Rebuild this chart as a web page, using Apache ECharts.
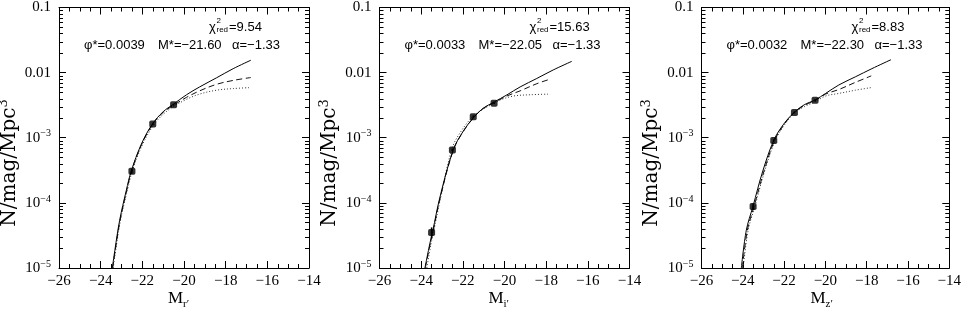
<!DOCTYPE html>
<html><head><meta charset="utf-8">
<script src="https://cdn.jsdelivr.net/npm/echarts@6/dist/echarts.min.js"></script>
<style>html,body{margin:0;padding:0;background:#fff}#c{width:964px;height:310px}</style>
</head><body><div id="c"></div>
<script>
// ---- tick labels / annotations ----
const xTickValues = [-26, -24, -22, -20, -18, -16, -14];
const xTickLabels = ['−26', '−24', '−22', '−20', '−18', '−16', '−14'];
const yTickLabels = ['10|−5', '10|−4', '10|−3', '0.01', '0.1']; // 1e-5 .. 0.1
const bandLabels = ['r′', 'i′', 'z′'];
const phiStar = ['0.0039', '0.0033', '0.0032'];
const mStar = ['−21.60', '−22.05', '−22.30'];
const alphaVal = ['−1.33', '−1.33', '−1.33'];
const chiRed = ['9.54', '15.63', '8.83'];

// ---- panel 1 (r') ----
const rSolidM = [-23.44, -23.32, -23.09, -22.77, -22.53, -22.05, -21.52, -21.00, -20.53, -19.88, -19.25, -18.44, -17.64, -16.79];
const rSolidV = [1.0e-5, 1.86e-5, 5.37e-5, 1.55e-4, 3.09e-4, 7.94e-4, 1.62e-3, 2.51e-3, 3.24e-3, 4.57e-3, 6.03e-3, 8.32e-3, 1.15e-2, 1.55e-2];
const rDashM = [-23.42, -23.30, -23.07, -22.75, -22.52, -22.03, -21.50, -21.00, -20.50, -19.88, -19.25, -18.44, -17.64, -16.79];
const rDashV = [1.0e-5, 1.86e-5, 5.37e-5, 1.55e-4, 3.09e-4, 7.94e-4, 1.62e-3, 2.45e-3, 3.16e-3, 4.17e-3, 5.25e-3, 6.61e-3, 7.59e-3, 8.41e-3];
const rDotM = [-23.40, -23.28, -23.05, -22.72, -22.48, -22.00, -21.47, -21.00, -20.50, -19.88, -19.25, -18.44, -17.64, -16.79];
const rDotV = [1.0e-5, 1.86e-5, 5.37e-5, 1.55e-4, 3.09e-4, 7.76e-4, 1.55e-3, 2.29e-3, 3.02e-3, 3.89e-3, 4.68e-3, 5.37e-3, 5.69e-3, 5.89e-3];
const rPtsM = [-22.5, -21.5, -20.5];
const rPtsV = [3.05e-4, 1.62e-3, 3.2e-3];
const rPtsLo = [2.8e-4, 1.55e-3, 3.1e-3];
const rPtsHi = [3.3e-4, 1.7e-3, 3.3e-3];

// ---- panel 2 (i') ----
const iSolidM = [-23.82, -23.58, -23.45, -23.10, -22.46, -21.98, -21.46, -21.02, -20.49, -19.89, -19.25, -18.45, -17.66, -16.77];
const iSolidV = [1.0e-5, 2.40e-5, 3.63e-5, 1.22e-4, 6.53e-4, 1.26e-3, 2.09e-3, 2.84e-3, 3.55e-3, 4.54e-3, 6.03e-3, 8.13e-3, 1.10e-2, 1.49e-2];
const iDashM = [-23.80, -23.56, -23.43, -23.08, -22.45, -21.97, -21.45, -21.02, -20.49, -19.89, -19.25, -18.45, -17.81];
const iDashV = [1.0e-5, 2.40e-5, 3.63e-5, 1.22e-4, 6.53e-4, 1.26e-3, 2.09e-3, 2.82e-3, 3.47e-3, 4.37e-3, 5.25e-3, 6.76e-3, 7.94e-3];
const iDotM = [-23.73, -23.52, -23.40, -23.06, -22.50, -22.02, -21.50, -21.02, -20.49, -20.21, -19.57, -18.78, -17.81];
const iDotV = [1.0e-5, 2.40e-5, 3.63e-5, 1.22e-4, 7.08e-4, 1.35e-3, 2.14e-3, 2.75e-3, 3.39e-3, 3.80e-3, 4.37e-3, 4.57e-3, 4.68e-3];
const iPtsM = [-23.5, -22.5, -21.5, -20.5];
const iPtsV = [3.5e-5, 6.5e-4, 2.1e-3, 3.4e-3];
const iPtsLo = [2.9e-5, 6.2e-4, 2.0e-3, 3.3e-3];
const iPtsHi = [4.2e-5, 6.8e-4, 2.2e-3, 3.5e-3];

// ---- panel 3 (z') ----
const zSolidM = [-24.07, -23.83, -23.51, -23.03, -22.50, -22.02, -21.51, -21.03, -20.50, -19.99, -19.35, -18.55, -17.75, -16.82];
const zSolidV = [1.0e-5, 3.80e-5, 8.77e-5, 3.09e-4, 9.12e-4, 1.62e-3, 2.45e-3, 3.20e-3, 3.80e-3, 4.79e-3, 6.46e-3, 8.61e-3, 1.15e-2, 1.58e-2];
const zDashM = [-24.02, -23.78, -23.46, -22.97, -22.46, -21.99, -21.50, -21.00, -20.50, -19.99, -19.35, -18.55, -17.78];
const zDashV = [1.0e-5, 3.80e-5, 8.71e-5, 3.09e-4, 9.12e-4, 1.62e-3, 2.45e-3, 3.16e-3, 3.72e-3, 4.68e-3, 5.50e-3, 7.08e-3, 8.91e-3];
const zDotM = [-23.98, -23.74, -23.42, -22.94, -22.44, -21.98, -21.50, -21.00, -20.50, -19.99, -19.35, -18.55, -17.78];
const zDotV = [1.0e-5, 3.80e-5, 8.71e-5, 3.09e-4, 8.91e-4, 1.58e-3, 2.40e-3, 3.02e-3, 3.55e-3, 4.37e-3, 4.79e-3, 5.37e-3, 5.89e-3];
const zPtsM = [-23.5, -22.5, -21.5, -20.5];
const zPtsV = [8.8e-5, 9.1e-4, 2.45e-3, 3.75e-3];
const zPtsLo = [7.8e-5, 8.7e-4, 2.38e-3, 3.65e-3];
const zPtsHi = [9.8e-5, 9.5e-4, 2.52e-3, 3.85e-3];

const panels = [
  {solid:[rSolidM,rSolidV], dash:[rDashM,rDashV], dot:[rDotM,rDotV], pts:[rPtsM,rPtsV,rPtsLo,rPtsHi]},
  {solid:[iSolidM,iSolidV], dash:[iDashM,iDashV], dot:[iDotM,iDotV], pts:[iPtsM,iPtsV,iPtsLo,iPtsHi]},
  {solid:[zSolidM,zSolidV], dash:[zDashM,zDashV], dot:[zDotM,zDotV], pts:[zPtsM,zPtsV,zPtsLo,zPtsHi]}
];

// ---- layout ----
const gridLefts = [59, 379.5, 701.5];
const GW = 250, GT = 5, GH = 263;
const SERIF = "'Liberation Serif','Times New Roman',serif";
const SANS = "'Liberation Sans',Arial,sans-serif";
const TITLE_SERIF = "'DejaVu Serif',serif";

// minor log ticks (2..9 within each decade)
const minorTickValues = [];
for (let n = -5; n <= -2; n++) for (let k = 2; k <= 9; k++) minorTickValues.push(k * Math.pow(10, n));

const zip = (a, b) => a.map((v, i) => [v, b[i]]);

const grid = [], xAxis = [], yAxis = [], series = [], graphic = [];
const tickLine = {color: '#000', width: 1};

panels.forEach((p, i) => {
  const L = gridLefts[i];
  grid.push({left: L, top: GT, width: GW, height: GH, containLabel: false});
  const xBase = {
    type: 'value', gridIndex: i, min: -26, max: -14, interval: 2,
    axisLine: {show: true, onZero: false, lineStyle: {color: '#000', width: 1}},
    axisTick: {show: true, inside: true, length: 7, lineStyle: tickLine},
    minorTick: {show: true, splitNumber: 4, length: 4, lineStyle: tickLine},
    splitLine: {show: false}, minorSplitLine: {show: false}
  };
  xAxis.push(Object.assign({}, xBase, {
    position: 'bottom',
    axisLabel: {show: true, margin: 6, color: '#000', fontFamily: SERIF, fontSize: 15,
      formatter: v => { const k = xTickValues.indexOf(Math.round(v)); return k >= 0 ? xTickLabels[k] : ''; }}
  }));
  xAxis.push(Object.assign({}, xBase, {position: 'top', axisLabel: {show: false}}));

  const yLogBase = {
    type: 'log', logBase: 10, gridIndex: i, min: 1e-5, max: 0.1,
    axisLine: {show: true, onZero: false, lineStyle: {color: '#000', width: 1}},
    axisTick: {show: true, inside: true, length: 7, lineStyle: tickLine},
    splitLine: {show: false}, minorTick: {show: false}
  };
  yAxis.push(Object.assign({}, yLogBase, {
    position: 'left',
    axisLabel: {show: true, margin: 8, color: '#000',
      formatter: v => {
        const e = Math.round(Math.log10(v));
        const lab = yTickLabels[e + 5];
        if (!lab) return '';
        const parts = lab.split('|');
        return parts.length === 2 ? '{n|' + parts[0] + '}{s|' + parts[1] + '}' : '{n|' + lab + '}';
      },
      rich: {
        n: {fontFamily: SERIF, fontSize: 15, color: '#000', lineHeight: 18},
        s: {fontFamily: SERIF, fontSize: 10, color: '#000', verticalAlign: 'top', lineHeight: 10}
      }}
  }));
  yAxis.push(Object.assign({}, yLogBase, {position: 'right', axisLabel: {show: false}}));

  const xi = 2 * i, yi = 2 * i;
  // minor y ticks on both sides, placed through the log axis
  series.push({type: 'custom', xAxisIndex: xi, yAxisIndex: yi, silent: true, z: 2, clip: false,
    data: minorTickValues.map(v => [-26, v]),
    encode: {x: 0, y: 1},
    renderItem: (params, api) => {
      const y = Math.round(api.coord([api.value(0), api.value(1)])[1]) + 0.5;
      const cs = params.coordSys;
      const xl = cs.x, xr = cs.x + cs.width;
      return {type: 'group', children: [
        {type: 'line', shape: {x1: xl, y1: y, x2: xl + 4, y2: y}, style: {stroke: '#000', lineWidth: 1}},
        {type: 'line', shape: {x1: xr - 4, y1: y, x2: xr, y2: y}, style: {stroke: '#000', lineWidth: 1}}
      ]};
    }});

  series.push({type: 'line', xAxisIndex: xi, yAxisIndex: yi, data: zip(p.dot[0], p.dot[1]),
    showSymbol: false, smooth: 0.35, lineStyle: {color: '#333', width: 1, type: [1, 2]}, z: 3, silent: true});
  series.push({type: 'line', xAxisIndex: xi, yAxisIndex: yi, data: zip(p.dash[0], p.dash[1]),
    showSymbol: false, smooth: 0.35, lineStyle: {color: '#111', width: 1, type: [6, 3.5]}, z: 3, silent: true});
  series.push({type: 'line', xAxisIndex: xi, yAxisIndex: yi, data: zip(p.solid[0], p.solid[1]),
    showSymbol: false, smooth: 0.35, lineStyle: {color: '#000', width: 1}, z: 4, silent: true});
  series.push({type: 'custom', xAxisIndex: xi, yAxisIndex: yi, silent: true, z: 5,
    data: p.pts[0].map((m, k) => [m, p.pts[2][k], p.pts[3][k]]),
    encode: {x: 0, y: [1, 2]},
    renderItem: (params, api) => {
      const a = api.coord([api.value(0), api.value(1)]);
      const b = api.coord([api.value(0), api.value(2)]);
      return {type: 'line', shape: {x1: a[0], y1: a[1], x2: b[0], y2: b[1]}, style: {stroke: '#000', lineWidth: 1.5}};
    }});
  series.push({type: 'scatter', xAxisIndex: xi, yAxisIndex: yi, data: zip(p.pts[0], p.pts[1]),
    symbol: 'roundRect', symbolSize: 7, itemStyle: {color: '#000'}, z: 6, silent: true});

  // annotations
  const t = (x, y, text, font, align, extra) => Object.assign({type: 'text', x: x, y: y, silent: true,
    style: {text: text, font: font, fill: '#000', textAlign: align, align: align, textVerticalAlign: 'middle', verticalAlign: 'middle'}}, extra || {});
  graphic.push(t(L + 25, 45, 'φ*=' + phiStar[i], '13px ' + SANS, 'left'));
  graphic.push(t(L + 99, 45, 'M*=' + mStar[i], '13px ' + SANS, 'left'));
  graphic.push(t(L + 173, 45, 'α=' + alphaVal[i], '13px ' + SANS, 'left'));
  graphic.push(t(L + 150, 27, 'χ', '13px ' + SANS, 'left'));
  graphic.push(t(L + 157.5, 21, '2', '8px ' + SANS, 'left'));
  graphic.push(t(L + 157.5, 30, 'red', '8px ' + SANS, 'left'));
  graphic.push(t(L + 170, 27, '=' + chiRed[i], '13px ' + SANS, 'left'));
  // x title
  graphic.push(t(L + 124, 299, 'M', '17px ' + SERIF, 'right'));
  graphic.push(t(L + 124, 304, bandLabels[i], '11px ' + SERIF, 'left'));
  // y title
  graphic.push({type: 'text', x: L - 49.5, y: 163, rotation: Math.PI / 2, silent: true,
    style: {text: '{a|N/mag/Mpc}{b|3}', fill: '#000', textAlign: 'center', align: 'center',
      textVerticalAlign: 'middle', verticalAlign: 'middle',
      rich: {a: {fontFamily: TITLE_SERIF, fontSize: 20, lineHeight: 24, fill: '#000'},
             b: {fontFamily: TITLE_SERIF, fontSize: 13, lineHeight: 13, verticalAlign: 'top', fill: '#000'}}}});
});

const chart = echarts.init(document.getElementById('c'), null, {renderer: 'canvas'});
chart.setOption({animation: false, backgroundColor: '#fff', grid, xAxis, yAxis, series, graphic});
</script></body></html>
